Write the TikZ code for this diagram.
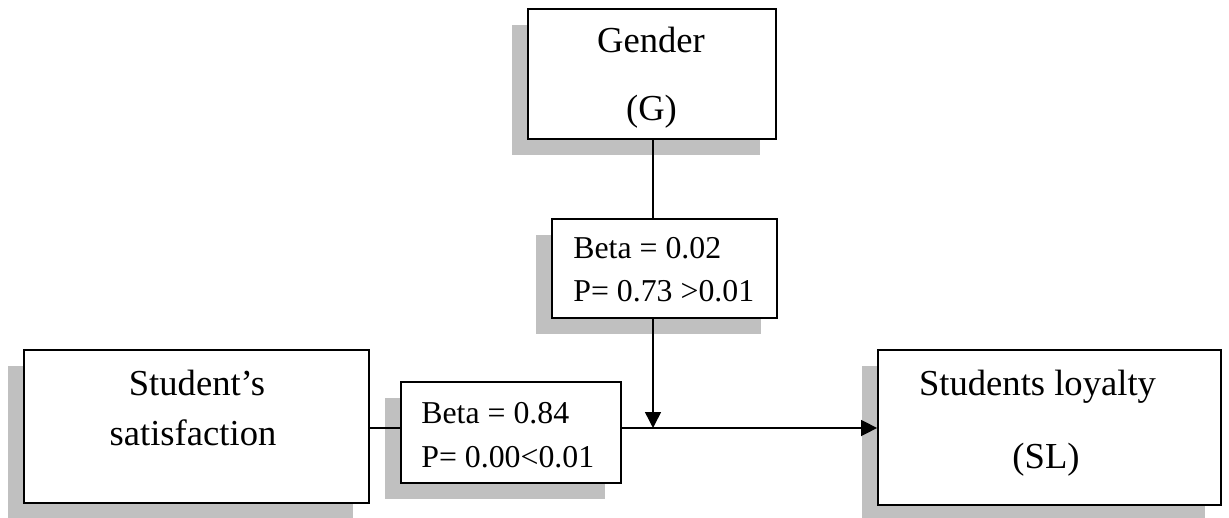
\documentclass[tikz,border=0pt]{standalone}
\usepackage{fontspec}
\setmainfont{Liberation Serif}
\usetikzlibrary{shadows,arrows.meta}
\definecolor{shadowgray}{RGB}{192,192,192}
\begin{document}
\begin{tikzpicture}[x=0.5pt,y=-0.5pt,
  box/.style={draw=black, line width=0.9pt, fill=white, rectangle, inner sep=0pt,
    general shadow={fill=shadowgray, shadow xshift=-8pt, shadow yshift=-8pt}},
  big/.style={inner sep=0pt, anchor=base, font=\fontsize{18.3}{20}\selectfont},
  small/.style={inner sep=0pt, anchor=base west, font=\fontsize{15.9}{18}\selectfont},
  conn/.style={line width=0.75pt},
  tip/.style={-{Triangle[length=8pt,width=8pt]}}]
\useasboundingbox (0,0) rectangle (1229,518);
% boxes
\node[box, minimum width=124pt, minimum height=65pt] (G) at (652,74) {};
\node[box, minimum width=112.5pt, minimum height=49.5pt] (B1) at (664.5,268.5) {};
\node[box, minimum width=172.5pt, minimum height=76.5pt] (SS) at (196.5,426.5) {};
\node[box, minimum width=110pt, minimum height=50.5pt] (B2) at (511,432.5) {};
\node[box, minimum width=171.5pt, minimum height=77.5pt] (SL) at (1049.5,427.5) {};
% texts
\node[big] (Gt1) at (651,53) {Gender};
\node[big] (Gt2) at (651.5,121) {(G)};
\node[small] (B1t1) at (573,258) {Beta = 0.02};
\node[small] (B1t2) at (573,301) {P= 0.73 >0.01};
\node[small] (B2t1) at (421,423) {Beta = 0.84};
\node[small] (B2t2) at (421,467) {P= 0.00<0.01};
\node[big] (SSt1) at (197,395) {Student’s};
\node[big] (SSt2) at (193,445) {satisfaction};
\node[big] (SLt1) at (1037.5,395) {Students loyalty};
\node[big] (SLt2) at (1046,468) {(SL)};
% connectors
\coordinate (J) at (653,428);
\draw[conn] (G.south -| J) -- (B1.north -| J);
\draw[conn,tip] (B1.south -| J) -- (J);
\draw[conn] (SS.east |- J) -- (B2.west |- J);
\draw[conn,tip] (B2.east |- J) -- (SL.west |- J);
\end{tikzpicture}
\end{document}
